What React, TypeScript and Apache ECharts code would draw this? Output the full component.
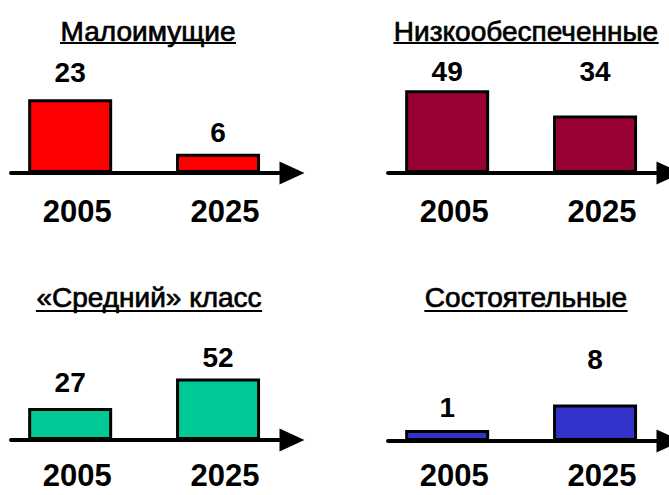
import React, { useEffect, useRef } from "react";
import * as echarts from "echarts";

// ---- Data ----
const years = [2005, 2025];
const titles = ["Малоимущие", "Низкообеспеченные", "«Средний» класс", "Состоятельные"];
const poor = [23, 6];
const lowIncome = [49, 34];
const middleClass = [27, 52];
const wealthy = [1, 8];
const seriesValues = [poor, lowIncome, middleClass, wealthy];

// ---- Styles / layout (not data) ----
const colors = ["#FF0000", "#990033", "#00C896", "#3333CC"];
const FONT = "'Liberation Sans', Arial, Helvetica, sans-serif";
const panels = [
  { dx: 0, axisY: 173, titleX: 148, titleY: 31, underlineY: 43, yMax: 38.4, lift: [13, 7], minH: 0, labelMargin: 23 },
  { dx: 377, axisY: 173, titleX: 526, titleY: 31, underlineY: 43, yMax: 72.8, lift: [5, 30], minH: 0, labelMargin: 23 },
  { dx: 0, axisY: 440, titleX: 149, titleY: 297, underlineY: 311, yMax: 104, lift: [12, 7], minH: 0, labelMargin: 20 },
  { dx: 377, axisY: 441, titleX: 526, titleY: 297, underlineY: 311, yMax: 27, lift: [9, 31], minH: 11, labelMargin: 19 },
];
const GRID_H = 123;
const TITLE_SIZE = 28;

function measure(text: string, font: string): number {
  const c = document.createElement("canvas");
  const ctx = c.getContext("2d");
  if (!ctx) return text.length * 14;
  ctx.font = font;
  return ctx.measureText(text).width;
}

export default function App() {
  const ref = useRef<HTMLDivElement>(null);

  useEffect(() => {
    document.body.style.margin = "0";
    if (!ref.current) return;
    const chart = echarts.init(ref.current, undefined, { renderer: "svg" });

    const grids = panels.map((p) => ({
      left: 11 + p.dx,
      width: 281,
      top: p.axisY - GRID_H,
      height: GRID_H,
      containLabel: false,
    }));

    const xAxes = panels.map((p, i) => ({
      type: "value",
      gridIndex: i,
      min: 1997,
      max: 2035,
      splitLine: { show: false },
      axisTick: { show: false },
      axisLine: {
        show: true,
        symbol: ["none", "triangle"],
        symbolSize: [23, 25],
        lineStyle: { color: "#000", width: 4 },
      },
      axisLabel: {
        customValues: years,
        formatter: (v: number) => String(v),
        fontSize: 31,
        lineHeight: 30,
        fontWeight: "bold",
        fontFamily: FONT,
        color: "#000",
        margin: p.labelMargin,
        padding: [0, 0, 0, 14],
      },
    }));

    const yAxes = panels.map((p, i) => ({
      type: "value",
      gridIndex: i,
      min: 0,
      max: p.yMax,
      show: false,
      splitLine: { show: false },
    }));

    const series = panels.map((p, i) => ({
      type: "bar",
      xAxisIndex: i,
      yAxisIndex: i,
      barWidth: 84,
      barMinHeight: p.minH,
      itemStyle: { color: colors[i], borderColor: "#000", borderWidth: 3 },
      label: {
        show: true,
        position: "top",
        fontSize: 28,
        fontWeight: "bold",
        fontFamily: FONT,
        color: "#000",
        formatter: (d: any) => String(d.value[1]),
      },
      data: seriesValues[i].map((v, j) => ({
        value: [years[j], v],
        label: { distance: p.lift[j] },
      })),
    }));

    const graphics: any[] = [];
    panels.forEach((p, i) => {
      const w = measure(titles[i], `normal ${TITLE_SIZE}px ${FONT}`) + 1;
      graphics.push({
        type: "text",
        x: p.titleX,
        y: p.titleY,
        style: {
          text: titles[i],
          fontSize: TITLE_SIZE,
          fontFamily: FONT,
          fill: "#000",
          stroke: "#000",
          lineWidth: 0.7,
          align: "center",
          verticalAlign: "middle",
        },
      });
      graphics.push({
        type: "line",
        shape: { x1: p.titleX - w / 2, y1: p.underlineY, x2: p.titleX + w / 2, y2: p.underlineY },
        style: { stroke: "#000", lineWidth: 2 },
      });
    });

    chart.setOption({
      animation: false,
      backgroundColor: "#fff",
      grid: grids,
      xAxis: xAxes,
      yAxis: yAxes,
      series,
      graphic: graphics,
    } as any);

    return () => chart.dispose();
  }, []);

  return <div ref={ref} style={{ width: 669, height: 495 }} />;
}
